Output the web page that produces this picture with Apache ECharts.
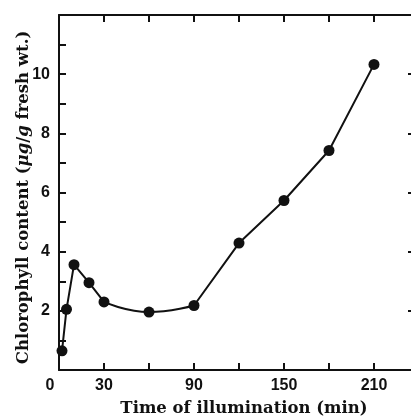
<!DOCTYPE html>
<html>
<head>
<meta charset="utf-8">
<script src="https://cdn.jsdelivr.net/npm/echarts@6/dist/echarts.min.js"></script>
<style>
  html, body { margin: 0; padding: 0; background: #fff; }
  #chart { width: 411px; height: 418px; }
</style>
</head>
<body>
<div id="chart"></div>
<script>
// time of illumination (min) and chlorophyll content (ug/g fresh wt.)
const times = [2, 5, 10, 20, 30, 60, 90, 120, 150, 180, 210];
const chlorophyll = [0.65, 2.05, 3.56, 2.95, 2.3, 1.96, 2.18, 4.29, 5.73, 7.42, 10.33];
const xLabels = [0, 30, 90, 150, 210];
const yLabels = [2, 4, 6, 8, 10];

const pts = times.map((t, i) => [t, chlorophyll[i]]);

const ink = '#111';
const numFont = { fontFamily: 'Liberation Sans', fontWeight: 'bold', fontSize: 16, color: ink };
const titleFont = { fontFamily: 'DejaVu Serif', fontWeight: 'bold', fontSize: 16.5, color: ink };

const chart = echarts.init(document.getElementById('chart'));

// the curve is drawn straight except the smooth dip between 30 and 90 min
const lineSeries = (data, smooth) => ({
  type: 'line',
  data,
  smooth,
  symbol: 'none',
  lineStyle: { color: ink, width: 2 },
  z: 2,
  silent: true
});

const frameAxis = {
  axisLine: { onZero: false, lineStyle: { color: ink, width: 2 } },
  axisTick: { inside: true, length: 7, lineStyle: { color: ink, width: 2 } },
  splitLine: { show: false }
};

chart.setOption({
  animation: false,
  grid: { left: 59, right: -8, top: 15, bottom: 48, outerBoundsMode: 'none', containLabel: false },
  xAxis: [
    Object.assign({}, frameAxis, {
      type: 'value',
      min: 0,
      max: 240,
      interval: 30,
      name: 'Time of illumination (min)',
      nameLocation: 'middle',
      nameMoveOverlap: false,
      nameGap: 30,
      nameTextStyle: Object.assign({}, titleFont, { padding: [0, 0, 0, 10] }),
      axisLabel: Object.assign({}, numFont, {
        margin: 8,
        formatter: v => xLabels.includes(v) ? (v === 0 ? '{z|0}' : String(v)) : '',
        rich: { z: Object.assign({}, numFont, { padding: [0, 18, 0, 0] }) }
      })
    }),
    Object.assign({}, frameAxis, {
      type: 'value',
      position: 'top',
      min: 0,
      max: 240,
      interval: 30,
      axisLabel: { show: false }
    })
  ],
  yAxis: [
    Object.assign({}, frameAxis, {
      type: 'value',
      min: 0,
      max: 12,
      interval: 1,
      name: 'Chlorophyll content ({i|\u03bcg}/{i|g} fresh wt.)',
      nameLocation: 'middle',
      nameMoveOverlap: false,
      nameGap: 27,
      nameRotate: 90,
      nameTextStyle: Object.assign({}, titleFont, {
        padding: [0, 10, 0, 0],
        rich: { i: Object.assign({}, titleFont, { fontStyle: 'italic' }) }
      }),
      axisLabel: Object.assign({}, numFont, {
        margin: 9,
        formatter: v => yLabels.includes(v) ? String(v) : ''
      })
    }),
    Object.assign({}, frameAxis, {
      type: 'value',
      position: 'right',
      min: 0,
      max: 12,
      interval: 2,
      axisTick: { inside: true, length: 11, lineStyle: { color: ink, width: 2 } },
      axisLabel: { show: false }
    })
  ],
  series: [
    lineSeries(pts.slice(0, 5), false),
    lineSeries(pts.slice(4, 7), 0.5),
    lineSeries(pts.slice(6), false),
    {
      type: 'scatter',
      data: pts,
      symbol: 'circle',
      symbolSize: 11,
      itemStyle: { color: ink, opacity: 1 },
      z: 3
    }
  ]
});
</script>
</body>
</html>
